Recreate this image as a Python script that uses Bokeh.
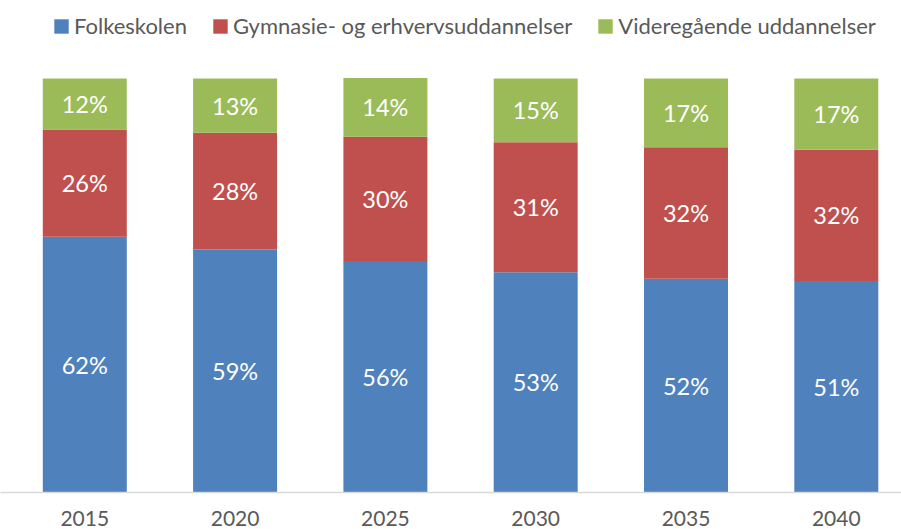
from bokeh.plotting import figure
from bokeh.models import Range1d, FixedTicker, Legend, LegendItem, ColumnDataSource
from bokeh.core.properties import value
from bokeh.embed import file_html
from bokeh.resources import INLINE

years = [2015, 2020, 2025, 2030, 2035, 2040]
year_labels = ["2015", "2020", "2025", "2030", "2035", "2040"]
series_names = ["Folkeskolen", "Gymnasie- og erhvervsuddannelser", "Videregående uddannelser"]
folkeskolen = [61.8, 58.7, 55.9, 53.2, 51.6, 51.1]
gymnasie = [25.9, 28.2, 30.0, 31.4, 31.8, 31.7]
videregaaende = [12.3, 13.1, 14.2, 15.4, 16.6, 17.2]
colors = ["#4F81BD", "#C0504D", "#9BBB59"]

FONT = "Lato"
GREY = "#595959"

p = figure(width=901, height=529, output_backend="svg", toolbar_location=None,
           x_range=Range1d(2012.196, 2042.169), y_range=Range1d(0, 118.84),
           min_border_left=0, min_border_right=0, min_border_top=0, min_border_bottom=37)

series = [folkeskolen, gymnasie, videregaaende]
bottom = [0.0] * len(years)
renderers = []
for name, vals, col in zip(series_names, series, colors):
    top = [b + v for b, v in zip(bottom, vals)]
    src = ColumnDataSource(dict(x=years, bottom=bottom, top=top,
                                ymid=[(b + t) / 2 for b, t in zip(bottom, top)],
                                lab=[f"{round(v)}%" for v in vals]))
    r = p.vbar(x="x", bottom="bottom", top="top", width=2.794, source=src,
               fill_color=col, line_color=None)
    p.text(x="x", y="ymid", text="lab", source=src, text_align="center",
           text_baseline="middle", text_color="white", text_font=value(FONT),
           text_font_size="23.5px")
    renderers.append(r)
    bottom = top

legend = Legend(items=[LegendItem(label=n, renderers=[r]) for n, r in zip(series_names, renderers)],
                orientation="horizontal", location=(52, 453), padding=0, margin=0,
                spacing=24, label_standoff=4, glyph_width=18, glyph_height=18,
                label_text_font=FONT, label_text_font_size="22px", label_text_color=GREY,
                border_line_color=None, background_fill_alpha=0)
p.add_layout(legend, "center")

p.yaxis.visible = False
p.xgrid.visible = False
p.ygrid.visible = False
p.outline_line_color = None
p.xaxis.ticker = FixedTicker(ticks=years)
p.xaxis.major_label_overrides = {y: l for y, l in zip(years, year_labels)}
p.xaxis.axis_line_color = "#D9D9D9"
p.xaxis.axis_line_width = 1.5
p.xaxis.major_tick_line_color = None
p.xaxis.minor_tick_line_color = None
p.xaxis.major_label_standoff = 12
p.xaxis.major_label_text_font = FONT
p.xaxis.major_label_text_font_size = "21px"
p.xaxis.major_label_text_color = GREY

open("out.html", "w").write(file_html(p, INLINE))
